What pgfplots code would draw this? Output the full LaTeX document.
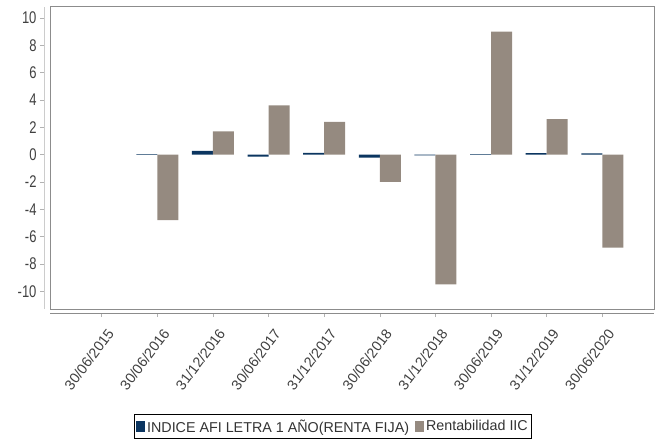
\documentclass[border=0pt]{standalone}
\usepackage{fontspec}
\setmainfont{Liberation Sans}
\usepackage{pgfplots}
\pgfplotsset{compat=1.18}
\definecolor{afiblue}{HTML}{0B3560}
\definecolor{iicgrey}{HTML}{958A80}
\definecolor{framegrey}{HTML}{8C8C8C}
\begin{document}
\begin{tikzpicture}
\path[use as bounding box] (-50bp,-134bp) rectangle (611bp,309bp);
\begin{axis}[
  at={(0,0)}, anchor=south west,
  scale only axis, width=604bp, height=302bp,
  xmin=-0.93, xmax=9.93, ymin=-11.3, ymax=10.8,
  axis lines*=left, separate axis lines,
  axis x line shift=4bp, axis y line shift=6bp,
  x axis line style={draw=framegrey, line width=0.9bp},
  y axis line style={draw=black!20, line width=0.6bp},
  tick align=outside, major tick length=4bp,
  tick style={draw=black!30, line width=0.6bp},
  /pgf/number format/assume math mode=true,
  ytick={-10,-8,...,10},
  xtick={0,...,9},
  xticklabels={30/06/2015,30/06/2016,31/12/2016,30/06/2017,31/12/2017,30/06/2018,31/12/2018,30/06/2019,31/12/2019,30/06/2020},
  yticklabel style={font=\fontsize{13bp}{15bp}\selectfont, text=black!75, yscale=1.3},
  xticklabel style={font=\fontsize{14.3bp}{16bp}\selectfont, text=black!75, xshift=11bp, yshift=-11bp, rotate=53, anchor=east},
  clip=false,
  legend style={at={(0.4685,-0.348)}, anchor=north, legend columns=2, draw=black, line width=0.8bp,
    font=\fontsize{14.3bp}{17bp}\selectfont, text=black!80, inner xsep=2bp, inner ysep=3bp,
    /tikz/every even column/.append style={column sep=4bp}},
  legend image code/.code={\fill[#1] (0bp,-5.5bp) rectangle (9bp,5.5bp);},
]
\addplot[ybar, bar width=21bp, bar shift=-10.5bp, fill=afiblue, draw=none]
  coordinates {(1,0.03) (2,0.28) (3,-0.15) (4,0.12) (5,-0.22) (6,-0.05) (7,0.03) (8,0.1) (9,0.08)};
\addlegendentry{INDICE AFI LETRA 1 AÑO(RENTA FIJA)}
\addplot[ybar, bar width=21bp, bar shift=10.5bp, fill=iicgrey, draw=none]
  coordinates {(1,-4.8) (2,1.7) (3,3.6) (4,2.4) (5,-2.0) (6,-9.5) (7,9.0) (8,2.6) (9,-6.8)};
\addlegendentry{Rentabilidad IIC}
\draw[framegrey, line width=1bp] (rel axis cs:0,0) rectangle (rel axis cs:1,1);
\end{axis}
\end{tikzpicture}
\end{document}
